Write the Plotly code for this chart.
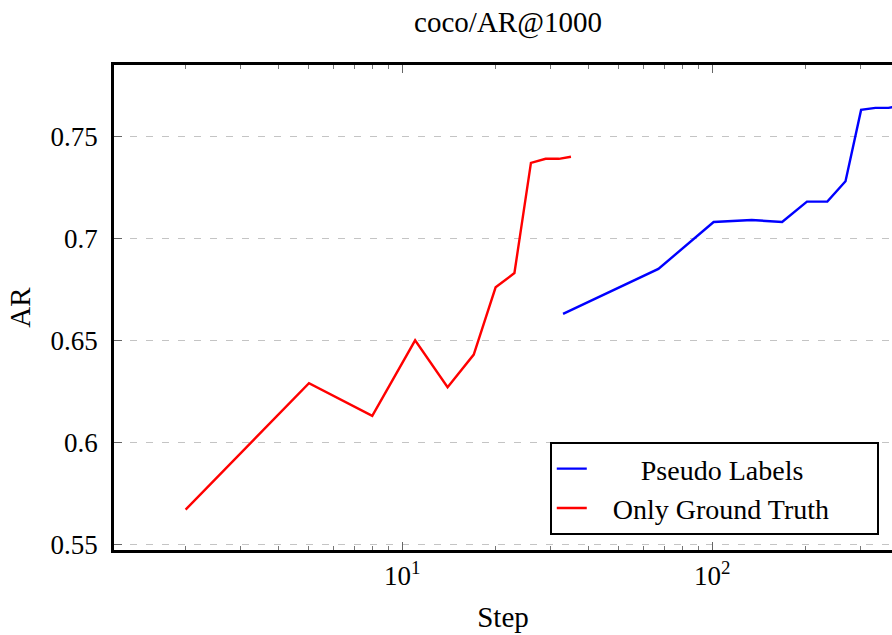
import numpy as np
import plotly.graph_objects as go

# Training steps and AR@1000 values for the two runs
gt_steps = [2, 5, 8, 11, 14, 17, 20, 23, 26, 29, 32, 35]
gt_ar = [0.567, 0.629, 0.613, 0.650, 0.627, 0.643, 0.676, 0.683, 0.737, 0.739, 0.739, 0.740]

pl_steps = [33, 67, 101, 134, 168, 202, 235, 269, 302, 336, 370, 403]
pl_ar = [0.663, 0.685, 0.708, 0.709, 0.708, 0.718, 0.718, 0.728, 0.763, 0.764, 0.764, 0.765]

y_ticks = [0.55, 0.6, 0.65, 0.7, 0.75]
y_tick_text = ["0.55", "0.6", "0.65", "0.7", "0.75"]
x_ticks = [10, 100]
x_tick_text = ["10<sup>1</sup>", "10<sup>2</sup>"]
x_minor = [d * m for m in (1, 10, 100) for d in range(2, 10) if d * m not in (10, 100)]

FONT = "'Liberation Serif', 'Times New Roman', 'DejaVu Serif', serif"
NB = "\u00a0"

fig = go.Figure()
fig.add_trace(go.Scatter(
    x=pl_steps, y=pl_ar, mode="lines", name=NB * 7 + "Pseudo Labels" + NB * 8,
    line=dict(color="#0000ff", width=2.4),
))
fig.add_trace(go.Scatter(
    x=gt_steps, y=gt_ar, mode="lines", name=NB * 3 + "Only Ground Truth" + NB * 6,
    line=dict(color="#ff0000", width=2.4),
))

fig.update_layout(
    width=892, height=635,
    margin=dict(l=114, r=0, t=65, b=85),
    paper_bgcolor="white", plot_bgcolor="white",
    font=dict(family=FONT, size=27, color="black"),
    title=dict(text="coco/AR@1000", x=508 / 892, xanchor="center",
               y=1 - 22 / 635, yanchor="middle", font=dict(family=FONT, size=29)),
    showlegend=True,
    legend=dict(x=0.983, xanchor="right", y=0.031, yanchor="bottom",
                bgcolor="white", bordercolor="black", borderwidth=2,
                font=dict(family=FONT, size=28), tracegroupgap=0),
)

fig.update_xaxes(
    type="log", range=[0.0700, 2.5797],
    showline=True, linecolor="black", linewidth=2.5, mirror="allticks",
    ticks="inside", ticklen=8, tickwidth=1, tickcolor="#666666",
    tickmode="array", tickvals=x_ticks, ticktext=x_tick_text,
    tickfont=dict(family=FONT, size=27),
    minor=dict(ticks="inside", ticklen=4, tickwidth=1, tickcolor="#777777",
               tickmode="array", tickvals=x_minor, showgrid=False),
    showgrid=False, zeroline=False,
    title=dict(text="Step", standoff=17, font=dict(family=FONT, size=29)),
)
fig.update_yaxes(
    range=[0.5472, 0.785],
    showline=True, linecolor="black", linewidth=2.5, mirror=False,
    ticks="inside", ticklen=8, tickwidth=1, tickcolor="#666666",
    tickmode="array", tickvals=y_ticks, ticktext=y_tick_text,
    tickfont=dict(family=FONT, size=27),
    ticklabelstandoff=8,
    showgrid=True, gridcolor="#c4c4c4", gridwidth=1, griddash="7px,9px",
    zeroline=False,
    title=dict(text="AR", standoff=12, font=dict(family=FONT, size=29)),
)

fig.write_html("out.html")
